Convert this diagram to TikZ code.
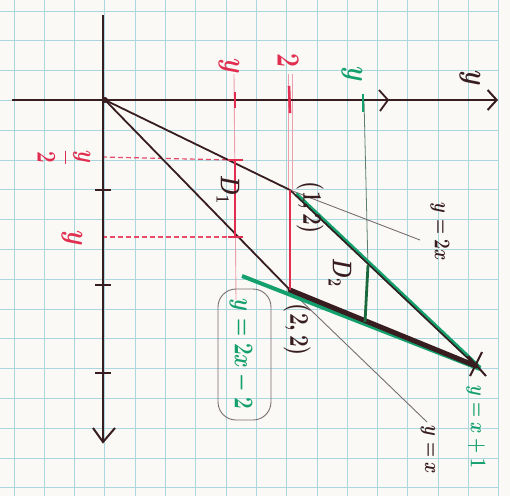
\documentclass[tikz,border=0pt]{standalone}
\usetikzlibrary{arrows.meta}
\definecolor{gridc}{RGB}{172,214,222}
\definecolor{ink}{RGB}{55,28,32}
\definecolor{redink}{RGB}{225,45,80}
\definecolor{pinkink}{RGB}{236,160,172}
\definecolor{greenink}{RGB}{20,160,110}
\definecolor{dgreen}{RGB}{25,105,60}
\definecolor{greyink}{RGB}{120,110,112}
\definecolor{paper}{RGB}{250,249,246}
\newcommand{\fs}[1]{\fontsize{#1}{#1}\selectfont\boldmath}
\begin{document}
\begin{tikzpicture}[x=1pt,y=-1pt,
  axisline/.style={draw=ink,line width=2.4pt},
  bound/.style={draw=ink,line width=1.8pt},
  thinline/.style={draw=greyink,line width=0.9pt},
  redthick/.style={draw=redink,line width=2.4pt},
  redthin/.style={draw=pinkink,line width=0.9pt},
  reddash/.style={draw=redink!85!white,line width=1.2pt,dash pattern=on 5pt off 3pt},
  lbl/.style={inner sep=0pt,rotate=-90,yscale=1.3},
  barb/.style={-{Straight Barb[length=9pt,width=20pt,line width=2pt]}}]
\fill[paper] (0,0) rectangle (510,496);
\useasboundingbox (0,0) rectangle (510,496);
% grid paper
\begin{scope}
\clip (0,0) rectangle (499,496);
\foreach \k in {0,...,16} {\draw[gridc,line width=0.9pt] (14+30.3*\k,0) -- (14+30.3*\k,496);}
\foreach \k in {0,...,16} {\draw[gridc,line width=0.9pt] (0,11+29.8*\k) -- (499,11+29.8*\k);}
\end{scope}
% key points
\coordinate (O) at (105,100);
\coordinate (P12) at (290,190);
\coordinate (P22) at (290,290);
\coordinate (P34) at (476,366);
\coordinate (yL) at (12,100);
\coordinate (yR) at (498,100);
\coordinate (xT) at (103,15);
\coordinate (xB) at (103,442);
\coordinate (chev) at (388,100);
\coordinate (e2x) at (420,240);
\coordinate (ex) at (427,422);
\coordinate (g1s) at (296,194);
\coordinate (g1e) at (480,368);
\coordinate (g2s) at (242,276);
\coordinate (g2e) at (480,369);
% red / green guide lines
\draw[redthin] (234,74) -- (236,300);
\draw[redthin] (288,74) -- (288,190);
\draw[redthin] (292,74) -- (292,190);
\draw[draw=greyink!70!greenink,line width=0.8pt] (364,100) -- (368,268);
\draw[reddash] (102,157) -- (232,160);
\draw[reddash] (102,237) -- (235,237);
% axes
\draw[axisline,barb] (yL) -- (yR);
\draw[axisline,line width=2pt] (xT) -- (xB);
\draw[ink,line width=2pt] (93,428) -- (xB) -- (115,428);
\draw[ink,line width=1.8pt] (379,90) -- (chev) -- (380,111);
\foreach \t in {190,285,373} {\draw[ink,line width=1.8pt] (95,\t) -- (111,\t);}
\fill[ink] (O) circle (3pt);
% axis ticks
\draw[redink,line width=2.2pt] (235,92) -- (235,108);
\draw[redink,line width=2.6pt] (289,86) -- (290,113);
\draw[greenink,line width=2.4pt] (363,94) -- (363,112);
% boundary lines
\draw[bound] (O) -- (P12);
\draw[bound] (O) -- (P22);
\draw[thinline] (P12) -- (e2x);
\draw[thinline] (P22) -- (ex);
\draw[greenink,line width=4pt] (g1s) -- (g1e);
\draw[ink,line width=1.6pt] (P12) -- (P34);
\draw[greenink,line width=4pt] (g2s) -- (g2e);
\draw[ink,line width=5pt,line cap=round] (P22) -- (P34);
\draw[ink,line width=2pt] (468,356) -- (486,376) (470,376) -- (482,352);
% cross sections
\draw[redthick] (235,160) -- (235,237);
\draw[redink,line width=2pt] (228,160) -- (243,160) (228,237) -- (243,237);
\draw[redink,line width=2.2pt] (290,190) -- (290,290);
\draw[dgreen,line width=2.8pt] (368,265) -- (365,322);
% labels
\node[lbl,text=redink,font=\fs{26}] (ly1) at (229,66) {$y$};
\node[lbl,text=redink,font=\fs{26}] (l2) at (288,60) {$2$};
\node[lbl,text=greenink,font=\fs{26}] (ly2) at (352,74) {$y$};
\node[lbl,text=ink,font=\fs{26}] (lyax) at (470,78) {$y$};
\node[lbl,text=redink,font=\fs{20}] (lyh) at (64,157) {$\displaystyle\frac{y}{2}$};
\node[lbl,text=redink,font=\fs{24}] (lyb) at (72,238) {$y$};
\node[lbl,text=ink,font=\fs{21}] (lD1) at (228,190) {$D_1$};
\node[lbl,text=ink,font=\fs{21}] (lD2) at (340,273) {$D_2$};
\node[lbl,text=ink,font=\fs{20}] (l12) at (310,208) {$(1,2)$};
\node[lbl,text=ink,font=\fs{21}] (l22) at (297,330) {$(2,2)$};
\node[lbl,text=ink,font=\fs{17.28}] (l2x) at (440,232) {$y=2x$};
\node[lbl,text=ink,font=\fs{17.28}] (lx) at (428,450) {$y=x$};
\node[lbl,text=greenink,font=\fs{18}] (lx1) at (476,427) {$y=x+1$};
\node[lbl,text=greenink,font=\fs{20}] (l2x2) at (241,354) {$y=2x-2$};
\draw[greyink,line width=0.9pt,rounded corners=18pt] (218,289) rectangle (271,420);
\end{tikzpicture}
\end{document}
